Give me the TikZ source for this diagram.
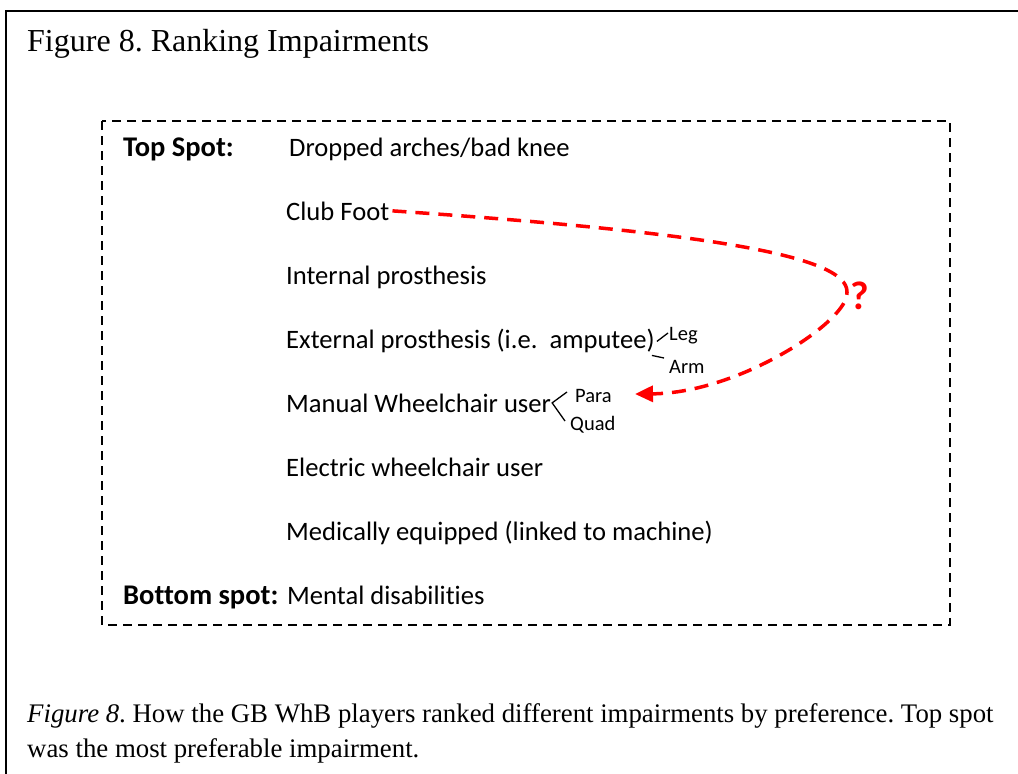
\documentclass[tikz,border=0pt]{standalone}
\usepackage{fontspec}
\setmainfont{Liberation Serif}
\newfontfamily\calibfont[Ligatures=NoCommon]{Carlito}
\usetikzlibrary{arrows.meta,positioning}
\definecolor{qRed}{HTML}{FF0000}
\frenchspacing

\begin{document}
\begin{tikzpicture}[x=1pt,y=-1pt,>=Latex,
  item/.style={anchor=base west,inner sep=0pt,font=\calibfont\fontsize{26.6}{30}\selectfont},
  spot/.style={anchor=base west,inner sep=0pt,font=\calibfont\bfseries\fontsize{28.5}{32}\selectfont},
  sublbl/.style={anchor=west,inner sep=0pt,font=\calibfont\fontsize{20.5}{24}\selectfont},
  branch/.style={line width=1.3pt,black}]
  \useasboundingbox (0,0) rectangle (1018,774);
  % outer frame, open to the right and bottom
  \draw[line width=2pt] (6,800) -- (6,11) -- (1040,11);
  \node[anchor=base west,inner sep=0pt,font=\fontsize{32}{38}\selectfont] (title) at (27,51)
    {Figure 8. Ranking Impairments};
  % ranking box
  \draw[line width=1.6pt,dash pattern=on 9pt off 6pt] (102,121) rectangle (950,625);
  \node[spot] (top) at (123,156) {Top Spot:};
  \node[item] (drop) at (289,156) {Dropped arches/bad knee};
  \node[item] (club) at (286,220) {Club Foot};
  \node[item] (intp) at (286,284) {Internal prosthesis};
  \node[item] (ext) at (286,348) {External prosthesis (i.e.\ \ amputee)};
  \node[item] (manual) at (286,412) {Manual Wheelchair user};
  \node[item] (elec) at (286,476) {Electric wheelchair user};
  \node[item] (med) at (286,540) {Medically equipped (linked to machine)};
  \node[spot] (bottom) at (123,604) {Bottom spot:};
  \node[item] (mental) at (287,604) {Mental disabilities};
  % sub groups
  \node[sublbl] (leg) at (669,336) {Leg};
  \node[sublbl] (arm) at (669,367) {Arm};
  \node[sublbl] (para) at (575,396) {Para};
  \node[sublbl] (quad) at (570,425) {Quad};
  \draw[branch] ([xshift=2pt,yshift=-1pt]ext.east) -- ([xshift=-1pt,yshift=3pt]leg.west);
  \draw[branch] ([xshift=-3pt,yshift=-15pt]ext.east) -- ([xshift=-5pt,yshift=9pt]arm.west);
  \draw[branch] ([xshift=-8pt,yshift=4pt]para.west) -- ([xshift=1pt]manual.east)
    -- ([xshift=-5pt,yshift=4pt]quad.west);
  % question
  \node[inner sep=0pt,text=qRed,font=\calibfont\bfseries\fontsize{40}{44}\selectfont] (qmark) at (860,296) {?};
  \coordinate (tip) at (635,394);
  \draw[qRed,line width=3.5pt,dash pattern=on 14pt off 9pt,
        -{Triangle[length=18pt,width=16pt,sep=0pt]}]
    ([xshift=3pt]club.east) .. controls (700,232) and (848,255) .. (847,292)
    .. controls (850,320) and (740,393) .. (tip);
  % caption
  \node[anchor=base west,inner sep=0pt,align=left,font=\fontsize{26.8}{35}\selectfont] (cap) at (27,757)
    {\textit{Figure 8}. How the GB WhB players ranked different impairments by preference. Top spot\\
     was the most preferable impairment.};
\end{tikzpicture}
\end{document}
